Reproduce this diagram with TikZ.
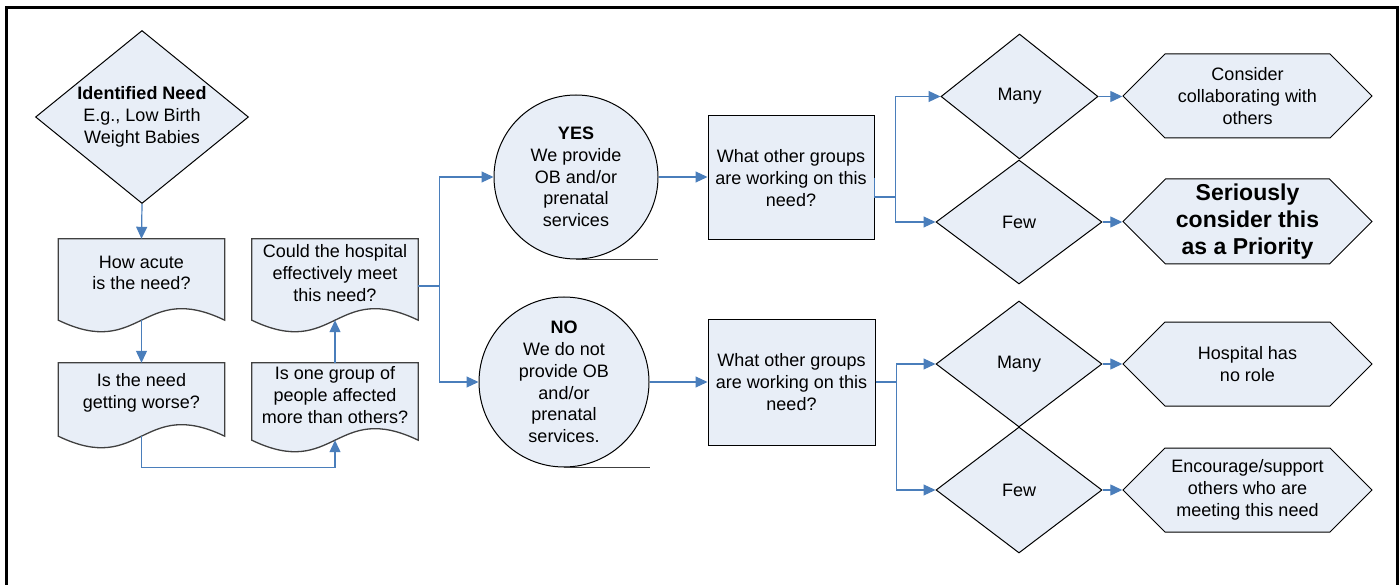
\documentclass[tikz,border=0pt]{standalone}
\usepackage{fontspec}
\setmainfont{Liberation Sans}
\usetikzlibrary{shapes.geometric,shapes.symbols,arrows.meta,backgrounds}

\definecolor{shapefill}{HTML}{E8EEF7}
\definecolor{linkblue}{HTML}{4A7EBB}
\definecolor{docedge}{HTML}{404040}

% outline of a document node, with its wavy bottom
\newcommand{\docwave}[1]{%
	\begin{pgfonlayer}{background}
		\draw[docline] (#1.north west) -- (#1.north east) -- ([yshift=-13pt]#1.south east)
			.. controls +(-83,-40) and +(83,40) .. ([yshift=-13pt]#1.south west) -- cycle;
	\end{pgfonlayer}
	\coordinate (#1 tail) at ([yshift=-13pt]#1.south);
}

\begin{document}
\begin{tikzpicture}[x = 1pt, y = -1pt,
	font = \fontsize{18}{21.7}\selectfont,
	box/.style = {draw = black, fill = shapefill, line width = 1pt, inner sep = 0pt, align = center},
	docbox/.style = {inner sep = 0pt, align = center, minimum width = 166pt},
	docline/.style = {draw = docedge, fill = shapefill, line width = 1.3pt},
	decision/.style = {box, diamond},
	storage/.style = {box, circle},
	result/.style = {box, signal, signal to = west and east, minimum width = 249pt, minimum height = 84pt},
	link/.style = {draw = linkblue, line width = 1.2pt, -{Triangle[length = 12pt, width = 11pt]}}]
	\useasboundingbox (0,0) rectangle (1400,585);
	\draw[line width = 3pt] (6,585) -- (6,8) -- (1397,8) -- (1397,585);

	% first questions
	\node[decision, aspect = 1.23, minimum width = 213pt, minimum height = 173pt] (need) at (142,117)
		{\textbf{Identified Need}\\E.g., Low Birth\\Weight Babies};
	\node[docbox, minimum height = 68pt] (acute) at (141.5,273) {How acute\\is the need?};
	\node[docbox, minimum height = 60pt] (worse) at (141.5,393) {Is the need\\getting worse?};
	\node[docbox, minimum height = 68pt] (hospital) at (335,273) {Could the hospital\\effectively meet\\this need?};
	\node[docbox, minimum height = 64pt] (group) at (335,395) {Is one group of\\people affected\\more than others?};
	\docwave{acute}
	\docwave{worse}
	\docwave{hospital}
	\docwave{group}

	% OB services or not
	\node[storage, minimum size = 164pt] (yes) at (576,177) {\textbf{YES}\\We provide\\OB and/or\\prenatal\\services};
	\node[storage, minimum size = 170pt] (no) at (564,382) {\textbf{NO}\\We do not\\provide OB\\and/or\\prenatal\\services.};
	\draw[docedge, line width = 1pt] (yes.south) -- ++(82,0);
	\draw[docedge, line width = 1pt] (no.south) -- ++(86,0);

	\node[box, minimum width = 166pt, minimum height = 124pt] (groupsyes) at (791,178)
		{What other groups\\are working on this\\need?};
	\node[box, minimum width = 167pt, minimum height = 126pt] (groupsno) at (791.5,382)
		{What other groups\\are working on this\\need?};

	% answers
	\node[decision, minimum width = 157pt, minimum height = 125pt] (manyyes) at (1019.5,96.5) {Many};
	\node[decision, minimum width = 166pt, minimum height = 124pt] (fewyes) at (1019,222) {Few};
	\node[decision, minimum width = 166pt, minimum height = 126pt] (manyno) at (1019,364) {Many};
	\node[decision, minimum width = 166pt, minimum height = 126pt] (fewno) at (1019,490) {Few};

	\node[result] (collab) at (1247.5,96) {Consider\\collaborating with\\others};
	\node[result, minimum height = 85pt, font = \fontsize{23}{27}\selectfont\bfseries] (priority) at (1247.5,221.5)
		{Seriously\\consider this\\as a Priority};
	\node[result] (norole) at (1247.5,364) {Hospital has\\no role};
	\node[result] (encourage) at (1247.5,490) {Encourage/support\\others who are\\meeting this need};

	% connectors
	\draw[link] (need.south) -- (acute.north);
	\draw[link] (acute tail) -- (worse.north);
	\draw[link] (worse tail) -- ++(0,31) -| (group tail);
	\draw[link] (group.north) -- (hospital tail);
	\draw[link] ([yshift = -13pt]hospital.east) -- ++(21,0) |- (yes.west);
	\draw[link] ([yshift = -13pt]hospital.east) -- ++(21,0) |- (no.west);
	\draw[link] (yes.east) -- (yes.east -| groupsyes.west);
	\draw[link] (no.east) -- (no.east -| groupsno.west);
	\draw[link] (groupsyes.east) -- ++(0,19) -- ++(21,0) |- (manyyes.west);
	\draw[link] (groupsyes.east) -- ++(0,19) -- ++(21,0) |- (fewyes.west);
	\draw[link] (groupsno.east) -- ++(21,0) |- (manyno.west);
	\draw[link] (groupsno.east) -- ++(21,0) |- (fewno.west);
	\draw[link] (manyyes.east) -- (manyyes.east -| collab.west);
	\draw[link] (fewyes.east) -- (fewyes.east -| priority.west);
	\draw[link] (manyno.east) -- (manyno.east -| norole.west);
	\draw[link] (fewno.east) -- (fewno.east -| encourage.west);
\end{tikzpicture}
\end{document}
